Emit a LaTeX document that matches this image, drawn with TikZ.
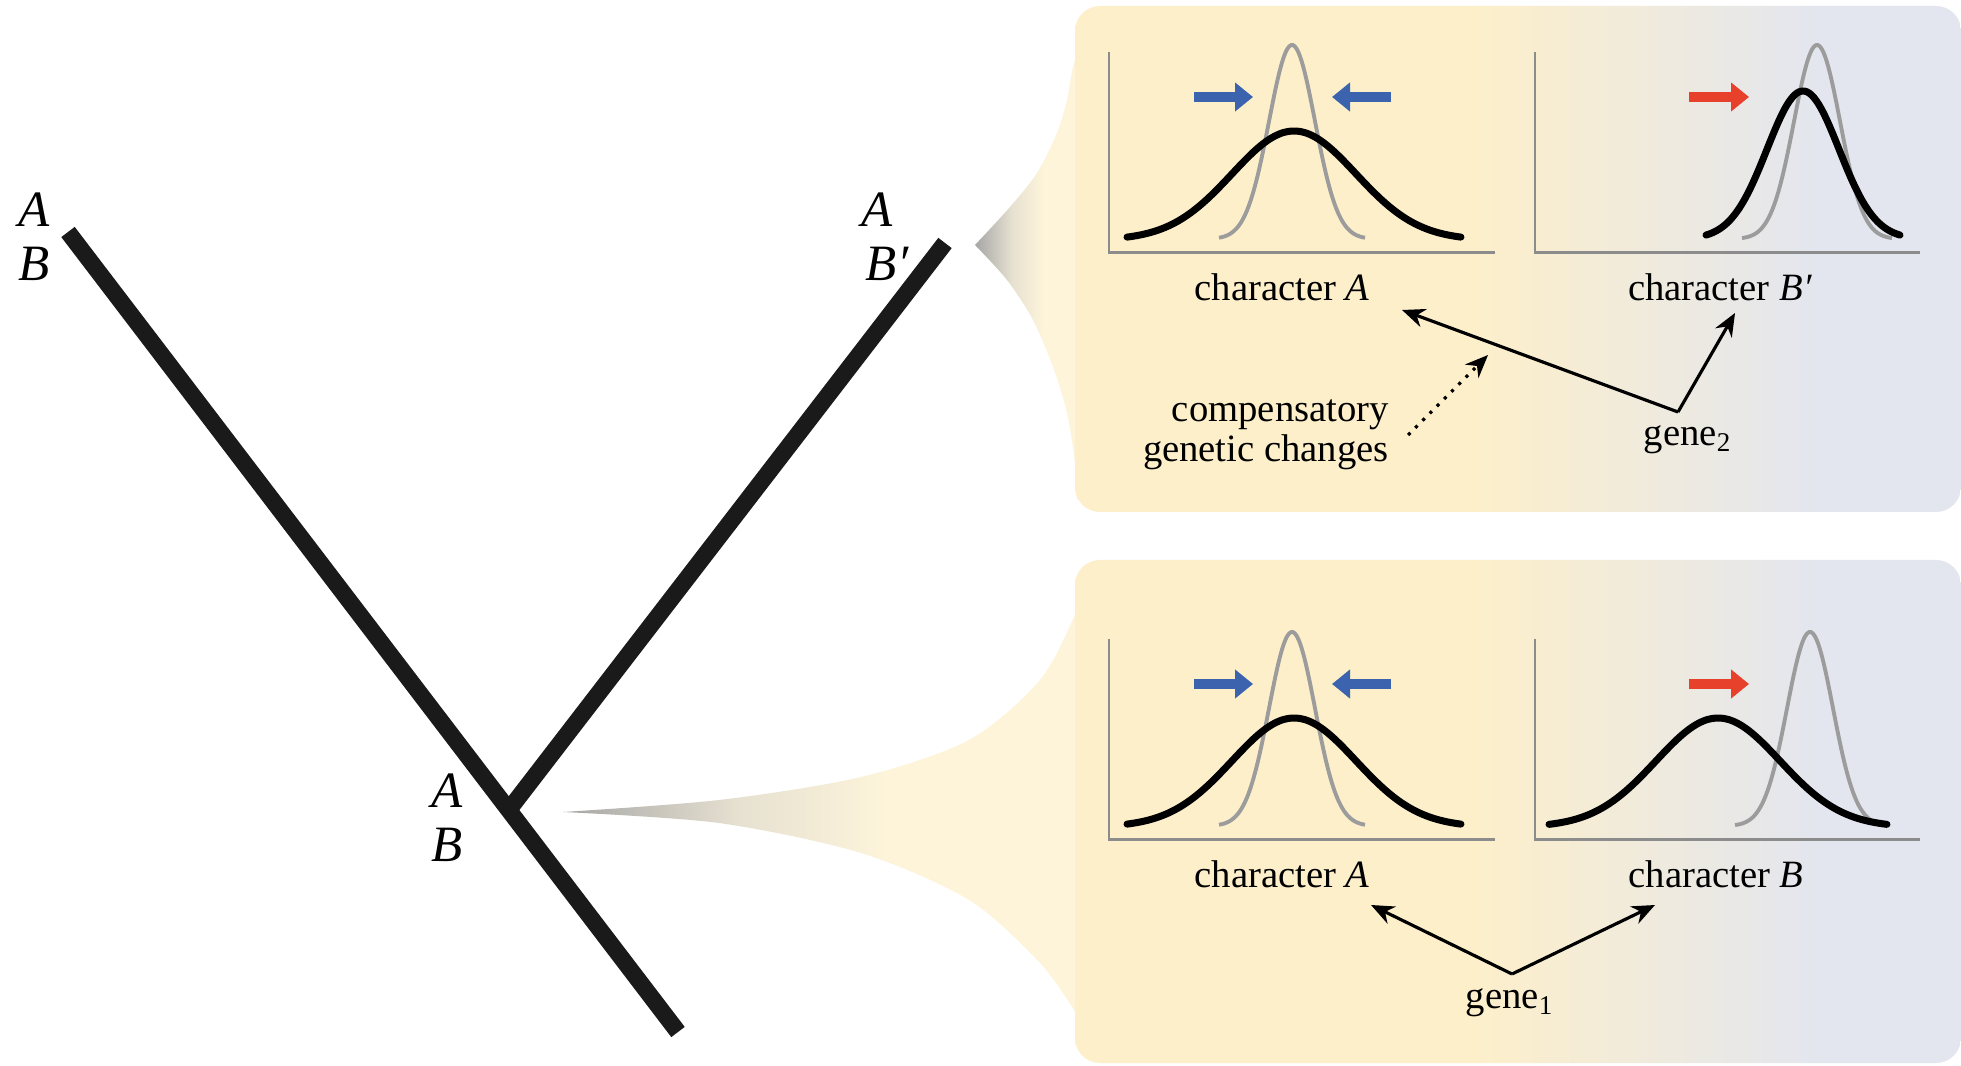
\documentclass[tikz,border=0pt]{standalone}
\usepackage{fontspec}
\setmainfont{Liberation Serif}
\usetikzlibrary{arrows.meta,calc}
\definecolor{PanelYellow}{HTML}{FDEFCA}
\definecolor{PanelBlue}{HTML}{E3E6EF}
\definecolor{FunnelGrey}{HTML}{A6A6A6}
\definecolor{FunnelBeige}{HTML}{E7E1D1}
\definecolor{FunnelPale}{HTML}{FDF4DA}
\definecolor{CurveGrey}{HTML}{9C9C9C}
\definecolor{AxisGrey}{HTML}{8C8C8C}
\definecolor{ShiftBlue}{HTML}{3C64AE}
\definecolor{ShiftRed}{HTML}{E8412B}
\definecolor{BranchBlack}{HTML}{1A1A1A}
\pgfdeclarehorizontalshading{panelshade}{100bp}{color(0bp)=(PanelYellow); color(47.5bp)=(PanelYellow); color(67bp)=(PanelBlue); color(100bp)=(PanelBlue)}
\pgfdeclarehorizontalshading{funnelshade}{100bp}{color(0bp)=(FunnelGrey); color(25bp)=(FunnelGrey); color(42bp)=(FunnelBeige); color(56bp)=(FunnelPale); color(100bp)=(FunnelPale)}
% gaussian: centre, base, height, sigma, half width
\newcommand{\bellcurve}[5]{plot[domain=-#5:#5,samples=80,smooth] ({#1+\x},{#2+#3*exp(-(\x*\x)/(2*#4*#4))})}

\begin{document}
\begin{tikzpicture}[
    branch/.style={line width=4.8pt,draw=BranchBlack},
    tiplabel/.style={font=\fontsize{14.5}{17}\selectfont\itshape,inner sep=0pt},
    txt/.style={font=\fontsize{11}{11.5}\selectfont,inner sep=1pt},
    axis/.style={line width=0.6pt,draw=AxisGrey},
    greycurve/.style={line width=1.1pt,draw=CurveGrey},
    blackcurve/.style={line width=2pt,draw=black,line cap=round},
    shiftarrow/.style={line width=2.8pt,-{Triangle[length=1.8mm,width=2.8mm]}},
    arrow/.style={-{Stealth[length=2.3mm,width=1.9mm]},line width=0.9pt}
  ]
    \useasboundingbox[fill=white] (0,0) rectangle (19.61,10.65);
    % funnels from the tree to the panels
    \shade[shading=funnelshade] (9.75,8.20)
      plot[smooth] coordinates {(9.75,8.20) (10.10,8.58) (10.37,8.92) (10.57,9.32) (10.67,9.65) (10.73,9.98) (10.85,10.35)}
      -- (10.85,5.65) -- plot[smooth] coordinates {(10.77,5.65) (10.75,6.02) (10.67,6.52) (10.53,6.98) (10.33,7.45) (10.07,7.85) (9.75,8.20)} -- cycle;
    \shade[shading=funnelshade] (5.63,2.53)
      plot[smooth] coordinates {(5.63,2.53) (7.19,2.65) (8.61,2.88) (9.69,3.25) (10.40,3.85) (10.76,4.52) (10.85,4.75)}
      -- (10.85,0.3) -- plot[smooth] coordinates {(10.76,0.52) (10.40,1.02) (9.69,1.65) (8.61,2.12) (7.19,2.42) (5.63,2.53)} -- cycle;
    % panels
    \shade[shading=panelshade,rounded corners=0.25cm] (10.75,5.53) rectangle (19.61,10.59);
    \shade[shading=panelshade,rounded corners=0.25cm] (10.75,0.02) rectangle (19.61,5.05);
    % tree
    \coordinate (lt) at (0.68,8.33);
    \coordinate (bot) at (6.78,0.33);
    \coordinate (rt) at (9.45,8.22);
    \coordinate (fork) at ($(lt)!0.7225!(bot)$);
    \draw[branch] (lt) -- (bot);
    \draw[branch] (fork) -- (rt);
    \node[tiplabel] (lA) at (0.34,8.55) {A};
    \node[tiplabel] (lB) at (0.34,8.01) {B};
    \node[tiplabel] (rA) at (8.77,8.55) {A};
    \node[tiplabel] (rB) at (8.87,8.01) {B′};
    \node[tiplabel] (fA) at (4.47,2.74) {A};
    \node[tiplabel] (fB) at (4.47,2.20) {B};
    % plots, same left plot in both panels
    \foreach \dy in {0,-5.87} {
      \begin{scope}[yshift=\dy cm]
        \draw[axis] (11.09,10.125) -- (11.09,8.125) -- (14.95,8.125);
        \draw[axis] (15.35,10.125) -- (15.35,8.125) -- (19.20,8.125);
        \draw[greycurve] \bellcurve{12.92}{8.26}{1.94}{0.23}{0.73};
        \draw[blackcurve] \bellcurve{12.94}{8.25}{1.09}{0.62}{1.67};
        \draw[shiftarrow,ShiftBlue] (11.94,9.68) -- (12.53,9.68);
        \draw[shiftarrow,ShiftBlue] (13.91,9.68) -- (13.32,9.68);
        \draw[shiftarrow,ShiftRed] (16.89,9.68) -- (17.49,9.68);
      \end{scope}
    }
    % top panel
    \draw[greycurve] \bellcurve{18.17}{8.26}{1.94}{0.23}{0.75};
    \draw[blackcurve] \bellcurve{18.03}{8.26}{1.48}{0.36}{0.97};
    \node[txt] (charA2) at (12.82,7.78) {character \textit{A}};
    \node[txt] (charB2) at (17.20,7.78) {character \textit{B′}};
    \node[txt] (gene2) at (16.88,6.25) {gene\textsubscript{2}};
    \node[txt,align=right,anchor=east] (comp) at (13.93,6.30) {compensatory\\genetic changes};
    \coordinate (g2v) at (16.78,6.53);
    \coordinate (g2a) at (14.02,7.55);
    \coordinate (g2b) at (17.35,7.52);
    \coordinate (cmpf) at (14.08,6.30);
    \coordinate (cmpt) at (14.88,7.10);
    \draw[arrow] (g2v) -- (g2a);
    \draw[arrow] (g2v) -- (g2b);
    \draw[arrow,dotted] (cmpf) -- (cmpt);
    % bottom panel
    \draw[greycurve] \bellcurve{18.10}{2.39}{1.94}{0.23}{0.75};
    \draw[blackcurve] \bellcurve{17.18}{2.38}{1.09}{0.62}{1.69};
    \node[txt] (charA1) at (12.82,1.91) {character \textit{A}};
    \node[txt] (charB1) at (17.16,1.91) {character \textit{B}};
    \node[txt] (gene1) at (15.10,0.62) {gene\textsubscript{1}};
    \coordinate (g1v) at (15.12,0.91);
    \coordinate (g1a) at (13.71,1.60);
    \coordinate (g1b) at (16.55,1.60);
    \draw[arrow] (g1v) -- (g1a);
    \draw[arrow] (g1v) -- (g1b);
  \end{tikzpicture}
\end{document}
